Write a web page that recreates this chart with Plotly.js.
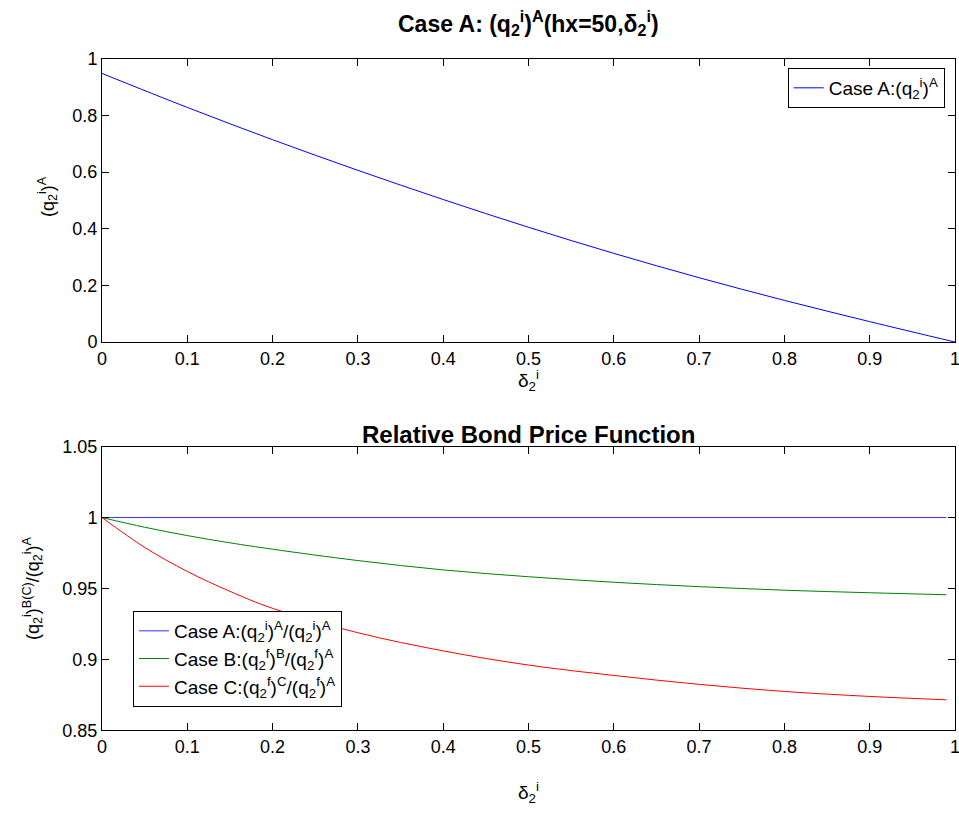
<!DOCTYPE html>
<html>
<head>
<meta charset="utf-8">
<script src="https://cdn.plot.ly/plotly-3.0.1.min.js"></script>
<style>html,body{margin:0;padding:0;background:#fff;}#chart{width:959px;height:813px;}</style>
</head>
<body>
<div id="chart"></div>
<script>
// Top panel: Case A bond price vs delta
const deltaTop = [0, 0.1, 0.2, 0.3, 0.4, 0.5, 0.6, 0.7, 0.8, 0.9, 1.0];
const qA = [0.948, 0.828, 0.714, 0.606, 0.503, 0.405, 0.313, 0.227, 0.147, 0.072, 0.0];

// Bottom panel: relative bond prices
const deltaBot = [0, 0.05, 0.1, 0.15, 0.2, 0.3, 0.4, 0.5, 0.6, 0.7, 0.8, 0.9, 0.99];
const relA = [1, 1, 1, 1, 1, 1, 1, 1, 1, 1, 1, 1, 1];
const relB = [1, 0.9932, 0.9873, 0.9822, 0.9777, 0.9697, 0.9631, 0.9583, 0.9544, 0.9513, 0.9488, 0.9470, 0.9456];
const relC = [1, 0.979, 0.962, 0.948, 0.936, 0.9188, 0.906, 0.896, 0.8887, 0.8824, 0.8774, 0.8739, 0.8715];

const topTicks = [0, 0.2, 0.4, 0.6, 0.8, 1];
const botTicks = [0.85, 0.9, 0.95, 1, 1.05];
const xTicks = [0, 0.1, 0.2, 0.3, 0.4, 0.5, 0.6, 0.7, 0.8, 0.9, 1];

const FONT = 'Liberation Sans, Arial, Helvetica, sans-serif';

const traces = [
  {x: deltaTop, y: qA, type: 'scatter', mode: 'lines', line: {color: '#0000ff', width: 1, shape: 'spline'},
   name: 'Case A:(q<sub>2</sub><sup>i</sup>)<sup>A</sup>', xaxis: 'x', yaxis: 'y', legend: 'legend'},
  {x: deltaBot, y: relA, type: 'scatter', mode: 'lines', line: {color: '#3333ff', width: 1},
   name: 'Case A:(q<sub>2</sub><sup>i</sup>)<sup>A</sup>/(q<sub>2</sub><sup>i</sup>)<sup>A</sup>', xaxis: 'x2', yaxis: 'y2', legend: 'legend2'},
  {x: deltaBot, y: relB, type: 'scatter', mode: 'lines', line: {color: '#008000', width: 1, shape: 'spline'},
   name: 'Case B:(q<sub>2</sub><sup>f</sup>)<sup>B</sup>/(q<sub>2</sub><sup>f</sup>)<sup>A</sup>', xaxis: 'x2', yaxis: 'y2', legend: 'legend2'},
  {x: deltaBot, y: relC, type: 'scatter', mode: 'lines', line: {color: '#ff0000', width: 1, shape: 'spline'},
   name: 'Case C:(q<sub>2</sub><sup>f</sup>)<sup>C</sup>/(q<sub>2</sub><sup>f</sup>)<sup>A</sup>', xaxis: 'x2', yaxis: 'y2', legend: 'legend2'}
];

const axBase = {
  showline: true, linecolor: '#000', linewidth: 1, mirror: 'ticks',
  ticks: 'inside', ticklen: 7, tickcolor: '#000', tickwidth: 1,
  showgrid: false, zeroline: false, ticklabeloverflow: 'allow',
  tickfont: {family: FONT, size: 18, color: '#000'}
};

const layout = {
  width: 959, height: 813,
  margin: {l: 102, r: 4, t: 0, b: 0},
  paper_bgcolor: '#fff', plot_bgcolor: '#fff',
  font: {family: FONT, color: '#000'},
  showlegend: true,
  xaxis: Object.assign({}, axBase, {domain: [0, 1], range: [0, 1], tickvals: xTicks, anchor: 'y'}),
  yaxis: Object.assign({}, axBase, {domain: [0.5793, 0.9278], range: [0, 1], tickvals: topTicks, anchor: 'x'}),
  xaxis2: Object.assign({}, axBase, {domain: [0, 1], range: [0, 1], tickvals: xTicks, anchor: 'y2'}),
  yaxis2: Object.assign({}, axBase, {domain: [0.1017, 0.4506], range: [0.85, 1.05], tickvals: botTicks, anchor: 'x2'}),
  legend: {x: 0.988, y: 0.9164, xanchor: 'right', yanchor: 'top', bgcolor: '#fff',
           bordercolor: '#000', borderwidth: 1, font: {family: FONT, size: 19, color: '#000'}},
  legend2: {x: 0.0363, y: 0.1304, xanchor: 'left', yanchor: 'bottom', bgcolor: '#fff',
            bordercolor: '#000', borderwidth: 1, font: {family: FONT, size: 19, color: '#000'}, tracegroupgap: 0},
  annotations: [
    {text: '<b>Case A: (q<sub>2</sub><sup>i</sup>)<sup>A</sup>(hx=50,δ<sub>2</sub><sup>i</sup>)</b>', xref: 'paper', yref: 'paper',
     x: 0.5, y: (813 - 23) / 813, xanchor: 'center', yanchor: 'middle', showarrow: false, font: {family: FONT, size: 23, color: '#000'}},
    {text: '<b>Relative Bond Price Function</b>', xref: 'paper', yref: 'paper',
     x: 0.5, y: (813 - 434) / 813, xanchor: 'center', yanchor: 'middle', showarrow: false, font: {family: FONT, size: 24, color: '#000'}},
    {text: 'δ<sub>2</sub><sup>i</sup>', xref: 'paper', yref: 'paper', x: 0.5, y: (813 - 380) / 813,
     xanchor: 'center', yanchor: 'middle', showarrow: false, font: {family: FONT, size: 19, color: '#000'}},
    {text: 'δ<sub>2</sub><sup>i</sup>', xref: 'paper', yref: 'paper', x: 0.5, y: (813 - 792) / 813,
     xanchor: 'center', yanchor: 'middle', showarrow: false, font: {family: FONT, size: 19, color: '#000'}},
    {text: '(q<sub>2</sub><sup>i</sup>)<sup>A</sup>', xref: 'paper', yref: 'paper', x: (47 - 102) / 853, y: (813 - 197) / 813,
     xanchor: 'center', yanchor: 'middle', textangle: -90, showarrow: false, font: {family: FONT, size: 18, color: '#000'}},
    {text: '(q<sub>2</sub><sup>i</sup>)<sup>B(C)</sup>/(q<sub>2</sub><sup>i</sup>)<sup>A</sup>', xref: 'paper', yref: 'paper', x: (32 - 102) / 853, y: (813 - 588) / 813,
     xanchor: 'center', yanchor: 'middle', textangle: -90, showarrow: false, font: {family: FONT, size: 18, color: '#000'}}
  ]
};

Plotly.newPlot('chart', traces, layout, {displayModeBar: false, staticPlot: true});
</script>
</body>
</html>
